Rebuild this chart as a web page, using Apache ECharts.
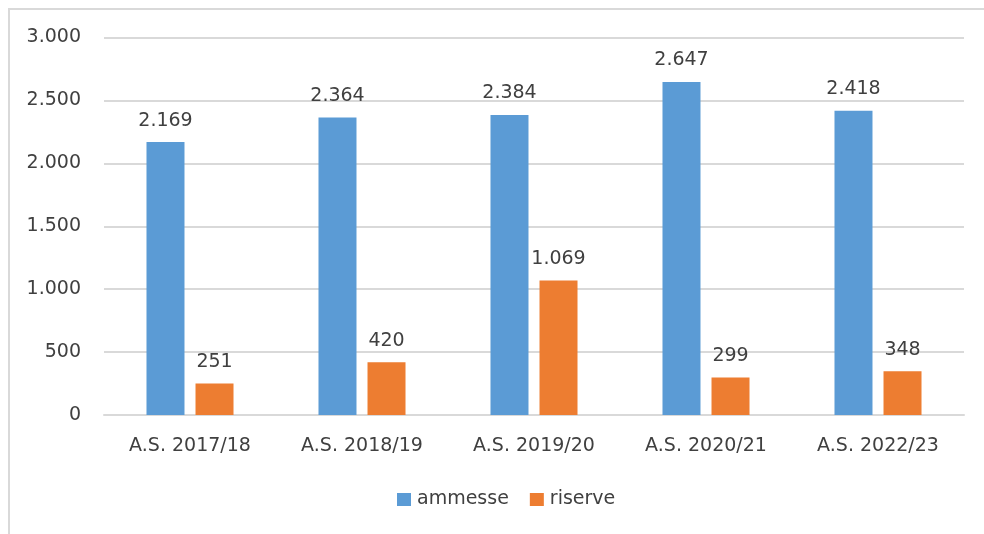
<!DOCTYPE html>
<html>
<head>
<meta charset="utf-8">
<script src="https://cdn.jsdelivr.net/npm/echarts@6/dist/echarts.min.js"></script>
<style>html,body{margin:0;padding:0;background:#fff}#c{width:984px;height:534px}</style>
</head>
<body>
<div id="c"></div>
<script>
const categories = ['A.S. 2017/18', 'A.S. 2018/19', 'A.S. 2019/20', 'A.S. 2020/21', 'A.S. 2022/23'];
const ammesse = [2169, 2364, 2384, 2647, 2418];
const riserve = [251, 420, 1069, 299, 348];
const seriesNames = ['ammesse', 'riserve'];

const FONT = 'DejaVu Sans';
const TXT = '#404040';
function fmt(v) { return String(v).replace(/\B(?=(\d{3})+(?!\d))/g, '.'); }

const chart = echarts.init(document.getElementById('c'), null, { renderer: 'canvas' });
chart.setOption({
  animation: false,
  backgroundColor: '#fff',
  textStyle: { fontFamily: FONT },
  graphic: [{
    type: 'rect', silent: true,
    shape: { x: 9, y: 9, width: 1100, height: 700 },
    style: { fill: 'none', stroke: '#D9D9D9', lineWidth: 2 }
  }],
  legend: {
    left: 392, top: 485,
    itemWidth: 14, itemHeight: 13, itemGap: 21,
    icon: 'rect',
    textStyle: { fontFamily: FONT, fontSize: 19, color: TXT, padding: [0, 0, 0, 1] },
    data: seriesNames
  },
  grid: { left: 104, right: 20, top: 37.5, bottom: 119, containLabel: false },
  xAxis: {
    type: 'category', data: categories,
    axisLine: { show: true, lineStyle: { color: '#D9D9D9', width: 2 } },
    axisTick: { show: false },
    axisLabel: { fontFamily: FONT, fontSize: 19, color: TXT, margin: 22 }
  },
  yAxis: {
    type: 'value', min: 0, max: 3000, interval: 500,
    axisLine: { show: false }, axisTick: { show: false },
    splitLine: { lineStyle: { color: '#D9D9D9', width: 2 } },
    axisLabel: { fontFamily: FONT, fontSize: 19, color: TXT, margin: 23, formatter: fmt }
  },
  series: [
    {
      name: seriesNames[0], type: 'bar', data: ammesse,
      barWidth: 38, barGap: '29%',
      itemStyle: { color: '#5B9BD5' },
      label: { show: true, position: 'top', distance: 12, fontFamily: FONT, fontSize: 19, color: TXT, formatter: p => fmt(p.value) }
    },
    {
      name: seriesNames[1], type: 'bar', data: riserve,
      barWidth: 38,
      itemStyle: { color: '#ED7D31' },
      label: { show: true, position: 'top', distance: 12, fontFamily: FONT, fontSize: 19, color: TXT, formatter: p => fmt(p.value) }
    }
  ]
});
</script>
</body>
</html>
